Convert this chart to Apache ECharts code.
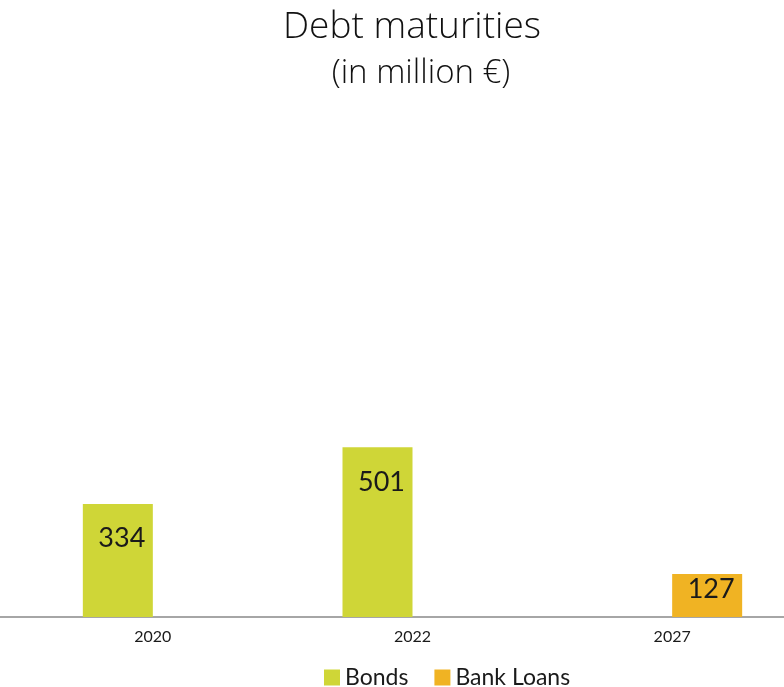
<!DOCTYPE html>
<html>
<head>
<meta charset="utf-8">
<script src="https://cdn.jsdelivr.net/npm/echarts@6/dist/echarts.min.js"></script>
<style>html,body{margin:0;padding:0;background:#fff;}#c{width:784px;height:687px;}</style>
</head>
<body>
<div id="c"></div>
<script>
const categories = ['2020', '2022', '2027'];
const bonds = [334, 501, 0];
const bankLoans = [0, 0, 127];
const seriesNames = ['Bonds', 'Bank Loans'];
const titleText = 'Debt maturities';
const subtitleText = '(in million €)';

const FONT = 'Lato, "Open Sans", sans-serif';
const TFONT = '"Open Sans", sans-serif';
const chart = echarts.init(document.getElementById('c'));

function mk(vals, bigDist, smallDist) {
  return vals.map(v => ({
    value: v,
    label: {
      show: v > 0,
      distance: v > 200 ? bigDist : smallDist
    }
  }));
}

chart.setOption({
  animation: false,
  backgroundColor: '#ffffff',
  title: [
    { text: titleText, left: 407, top: 4, textAlign: 'center',
      textStyle: { fontFamily: TFONT, fontWeight: 300, fontSize: 37, color: '#111111' } },
    { text: subtitleText, left: 416, top: 52, textAlign: 'center',
      textStyle: { fontFamily: TFONT, fontWeight: 300, fontSize: 33, color: '#111111' } }
  ],
  legend: {
    data: seriesNames,
    left: 319, top: 661,
    itemWidth: 16, itemHeight: 16, itemGap: 26,
    icon: 'rect',
    textStyle: { fontFamily: FONT, fontSize: 23, color: '#1a1a1a', padding: [0, 0, 0, 0] }
  },
  grid: [
    { left: 23, right: -18, top: 109, bottom: 70, outerBoundsMode: 'none', containLabel: false },
    { left: 0, right: 0, top: 109, bottom: 70 }
  ],
  xAxis: [
    { type: 'category', data: categories, gridIndex: 0,
      axisLine: { show: false },
      axisTick: { show: false },
      axisLabel: { fontFamily: FONT, fontSize: 16, color: '#1a1a1a', margin: 12 } },
    { type: 'category', data: [''], gridIndex: 1,
      axisLine: { show: true, lineStyle: { color: '#a6a6a6', width: 2 } },
      axisTick: { show: false }, axisLabel: { show: false } }
  ],
  yAxis: [
    { type: 'value', min: 0, max: 1500, gridIndex: 0, show: false, splitLine: { show: false } },
    { type: 'value', min: 0, max: 1500, gridIndex: 1, show: false, splitLine: { show: false } }
  ],
  series: [
    { name: seriesNames[0], type: 'bar', data: mk(bonds, 21, 2), barWidth: 70, barGap: '0%',
      itemStyle: { color: '#cfd637' },
      label: { show: true, position: 'insideTop', offset: [4, 0], fontFamily: FONT, fontSize: 27, color: '#1a1a1a' } },
    { name: seriesNames[1], type: 'bar', data: mk(bankLoans, 21, 2), barWidth: 70, barGap: '0%',
      itemStyle: { color: '#f0b323' },
      label: { show: true, position: 'insideTop', offset: [4, 0], fontFamily: FONT, fontSize: 27, color: '#1a1a1a' } }
  ]
});
</script>
</body>
</html>
